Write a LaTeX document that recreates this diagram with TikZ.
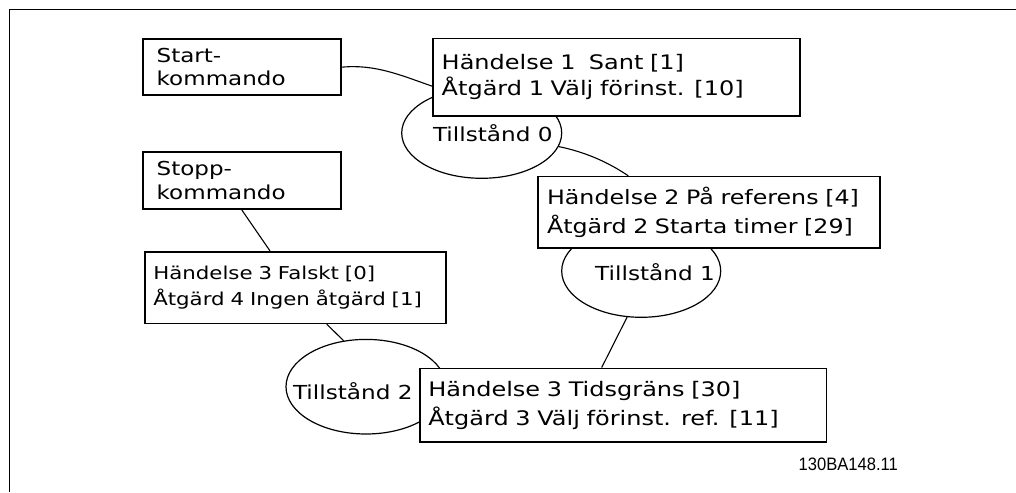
\documentclass[tikz,border=0pt]{standalone}
\usepackage{fontspec}
\setmainfont{DejaVu Sans}[FakeStretch=1.2]
\newfontfamily\codefont{Liberation Sans}[FakeStretch=0.92]
\usetikzlibrary{shapes.geometric}
\tikzset{
  box/.style={draw, line width=1.6pt, fill=white, inner sep=0pt, align=left},
  state/.style={draw, ellipse, line width=1.2pt, inner sep=0pt},
  statetext/.style={font=\fontsize{19.3pt}{22pt}\selectfont},
  link/.style={line width=1.1pt},
  frameline/.style={line width=1pt},
}
\begin{document}
\begin{tikzpicture}[x=1pt,y=-1pt]
\useasboundingbox (0,0) rectangle (1016,492);
\draw[frameline] (9,492) -- (9,10) -- (1016,10);

% states
\node[state, minimum width=160pt, minimum height=90.6pt,
  label={[statetext, xshift=11.1pt]center:Tillstånd 0}] (t0) at (481.7,133) {};
\node[state, minimum width=159pt, minimum height=92.6pt,
  label={[statetext, xshift=13.8pt, yshift=-1.4pt]center:Tillstånd 1}] (t1) at (641.2,271) {};
\node[state, minimum width=160pt, minimum height=94.6pt,
  label={[statetext, xshift=-13.2pt, yshift=-4.7pt]center:Tillstånd 2}] (t2) at (366,386.7) {};

% boxes
\node[box, minimum width=198pt, minimum height=56pt, text width=170pt,
  font=\fontsize{19.2pt}{23.3pt}\selectfont] (start) at (241.7,67.2) {Start-\\kommando};
\node[box, minimum width=198pt, minimum height=57pt, text width=170pt,
  font=\fontsize{19.2pt}{24pt}\selectfont] (stopp) at (241.7,180.5) {Stopp-\\kommando};
\node[box, minimum width=367pt, minimum height=77.7pt, text width=349.6pt,
  font=\fontsize{20pt}{26pt}\selectfont] (h1) at (616.5,77.2) {Händelse 1~ Sant [1]\\Åtgärd 1 Välj förinst. [10]};
\node[box, minimum width=342pt, minimum height=71.3pt, text width=324pt,
  font=\fontsize{19.8pt}{28.3pt}\selectfont] (h2) at (709,212.3) {Händelse 2 På referens [4]\\Åtgärd 2 Starta timer [29]};
\node[box, minimum width=301pt, minimum height=71.6pt, text width=284.4pt,
  font=\fontsize{17.75pt}{26pt}\selectfont] (h4) at (295.5,287.5) {Händelse 3 Falskt [0]\\Åtgärd 4 Ingen åtgärd [1]};
\node[box, minimum width=406.7pt, minimum height=73.4pt, text width=390pt,
  font=\fontsize{20pt}{29pt}\selectfont] (h3) at (623.3,405) {Händelse 3 Tidsgräns [30]\\Åtgärd 3 Välj förinst. ref. [11]};

% connectors
\draw[link] (start.east) .. controls (375,64) and (400,75) .. ([yshift=-9pt]h1.west);
\draw[link] (t0.-10) .. controls (585,152) and (608,162) .. ([xshift=-80.7pt]h2.north);
\draw[link] (t1.253) -- ([xshift=-21.6pt]h3.north);
\draw[link] (stopp.south) -- ([xshift=-25.5pt]h4.north);
\draw[link] ([xshift=31.2pt]h4.south) -- (t2.116);

% drawing code
\node[font=\codefont\fontsize{18pt}{20pt}\selectfont, anchor=base] (code) at (848.3,470) {130BA148.11};
\end{tikzpicture}
\end{document}
